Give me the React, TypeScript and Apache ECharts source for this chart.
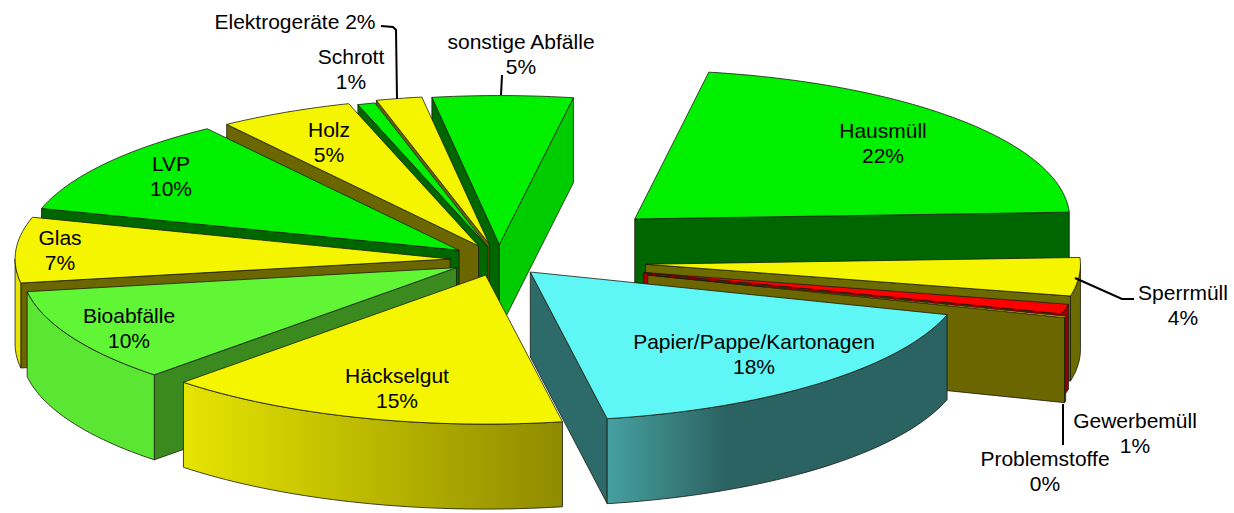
import React, { useEffect, useRef } from "react";
import * as echarts from "echarts";

// data, clockwise from the top of the pie
const names = ["Hausmüll", "Sperrmüll", "Gewerbemüll", "Problemstoffe", "Papier/Pappe/Kartonagen", "Häckselgut", "Bioabfälle", "Glas", "LVP", "Holz", "Schrott", "Elektrogeräte", "sonstige Abfälle"];
const values = [21.55, 4.15, 1.05, 0.15, 17.55, 15.05, 10.2, 7.1, 10.65, 5.0, 0.65, 1.7, 5.2];
const shownPercent = [22, 4, 1, 0, 18, 15, 10, 7, 10, 5, 1, 2, 5];
const explode = [181, 147, 149, 155, 47, 46, 48, 49, 49, 46, 40, 47, 45];

const topColors = ["#00f000", "#f5f500", "#ff0000", "#f5f500", "#5ff6f6", "#f5f500", "#60f636", "#f5f500", "#00f000", "#f5f500", "#00f000", "#f5f500", "#00f000"];
const startWall = ["#006600", "#6b6b00", "#a00000", "#6b6b00", "#2d6b6b", "#6b6b00", "#3a8a20", "#6b6600", "#006600", "#6b6600", "#006600", "#6b6600", "#006600"];
const endWall = ["#006600", "#6b6b00", "#a00000", "#6b6600", "#2d6b6b", "#6b6600", "#3a8a20", "#6b6600", "#006600", "#6b6600", "#006600", "#6b6600", "#00cc00"];
const rimFrom = ["#006600", "#6b6b00", "#a00000", "#6b6600", "#47a0a0", "#e6e400", "#5ce634", "#e6e400", "#00cc00", "#e6e400", "#00cc00", "#e6e400", "#00cc00"];
const rimTo = ["#006600", "#6b6b00", "#a00000", "#6b6600", "#2b6262", "#8f8b00", "#5ce634", "#e6e400", "#00cc00", "#e6e400", "#00cc00", "#e6e400", "#00cc00"];

// label centres in page pixels
const labelX = [883, 1183, 1135, 1045, 754, 397, 129, 60, 171, 329, 351, 295, 521];
const labelY = [143, 305, 433, 471, 354, 388, 328, 250, 176, 142, 69, 21, 54];

const CX = 499;
const CY = 260;
const R = 435;
const TILT = 0.3426;
const DEPTH = 85;
const START = 9.8;
const STROKE = "#1c1c10";

const total = values.reduce((a, b) => a + b, 0);
const rad = (d: number) => (d * Math.PI) / 180;

function sliceAngles(i: number) {
  let s = START;
  for (let k = 0; k < i; k++) s += (values[k] / total) * 360;
  return [s, s + (values[i] / total) * 360];
}

function paintOrder() {
  return values
    .map((_, i) => i)
    .sort((a, b) => {
      const [sa, ea] = sliceAngles(a);
      const [sb, eb] = sliceAngles(b);
      return Math.cos(rad((sb + eb) / 2)) - Math.cos(rad((sa + ea) / 2));
    });
}

function renderSlice(_params: any, api: any) {
  const i = api.value(0) as number;
  const [s, e] = sliceAngles(i);
  const mid = rad((s + e) / 2);
  const ax = CX + explode[i] * Math.sin(mid);
  const ay = CY - TILT * explode[i] * Math.cos(mid);
  const rim = (deg: number, drop = 0): number[] => [
    ax + R * Math.sin(rad(deg)),
    ay - TILT * R * Math.cos(rad(deg)) + drop,
  ];
  const arc = (a: number, b: number, drop = 0) => {
    const pts: number[][] = [];
    const n = Math.max(2, Math.ceil(Math.abs(b - a) / 1.5));
    for (let k = 0; k <= n; k++) pts.push(rim(a + ((b - a) * k) / n, drop));
    return pts;
  };
  const poly = (points: number[][], fill: any) => ({
    type: "polygon",
    shape: { points },
    style: { fill, stroke: STROKE, lineWidth: 0.8 },
  });
  const wall = (deg: number, fill: string) =>
    poly([[ax, ay], rim(deg), rim(deg, DEPTH), [ax, ay + DEPTH]], fill);

  const children: any[] = [];
  if (Math.sin(rad(s)) < 0) children.push(wall(s, startWall[i]));
  if (Math.sin(rad(e)) > 0) children.push(wall(e, endWall[i]));
  const r0 = Math.max(s, 90);
  const r1 = Math.min(e, 270);
  if (r1 > r0) {
    const top = arc(r0, r1);
    const bottom = arc(r1, r0, DEPTH);
    const stops =
      rimFrom[i] === rimTo[i]
        ? null
        : [
            { offset: 0, color: rimFrom[i] },
            { offset: i === 4 ? 0.35 : 1, color: rimTo[i] },
            { offset: 1, color: rimTo[i] },
          ];
    children.push(
      poly(
        [...top, ...bottom],
        stops ? new echarts.graphic.LinearGradient(0, 0, 1, 0, stops) : rimFrom[i]
      )
    );
  }
  children.push(poly([[ax, ay], ...arc(s, e)], topColors[i]));
  return { type: "group", children };
}

const leaderLines = [
  [[381, 26], [393, 27], [396, 30], [397, 99]],
  [[502, 75], [501, 95]],
  [[1075, 278], [1122, 299], [1134, 299]],
  [[1063, 404], [1063, 445]],
];

export default function App() {
  const ref = useRef<HTMLDivElement>(null);
  useEffect(() => {
    document.body.style.margin = "0";
    document.body.style.overflow = "hidden";
    const chart = echarts.init(ref.current!, undefined, { renderer: "svg" });
    chart.setOption({
      animation: false,
      backgroundColor: "#ffffff",
      tooltip: { show: false },
      series: [
        {
          type: "custom",
          coordinateSystem: "none",
          silent: true,
          renderItem: renderSlice,
          encode: { value: 0 },
          data: paintOrder().map((i) => [i]),
        },
      ],
      graphic: {
        elements: [
          ...leaderLines.map((points) => ({
            type: "polyline",
            z: 100,
            silent: true,
            shape: { points },
            style: { stroke: "#000000", lineWidth: 2, fill: "none" },
          })),
          ...names.map((n, i) => ({
            type: "text",
            z: 101,
            silent: true,
            x: labelX[i],
            y: labelY[i],
            style: {
              text: n === "Elektrogeräte" ? `${n} ${shownPercent[i]}%` : `${n}\n${shownPercent[i]}%`,
              font: '21px "Liberation Sans", Arial, sans-serif',
              lineHeight: 24.5,
              fill: "#000000",
              align: "center",
              verticalAlign: "middle",
            },
          })),
        ],
      },
    });
    return () => chart.dispose();
  }, []);
  return <div ref={ref} style={{ width: 1234, height: 513 }} />;
}
